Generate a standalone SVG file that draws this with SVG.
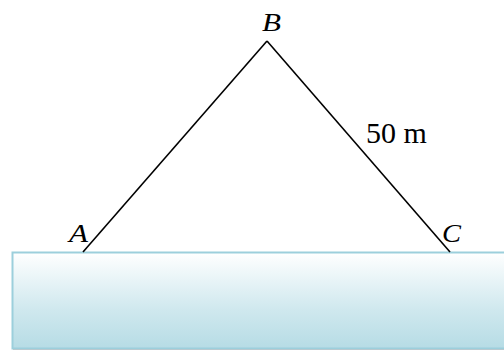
<svg xmlns="http://www.w3.org/2000/svg" width="504" height="351" viewBox="0 0 504 351">
<style>
.lbl{font-family:"Liberation Serif",serif;fill:#000}
.it{font-style:italic;font-size:25px}
.num{font-size:30px}
.edge{stroke:#000;stroke-width:1.6;fill:none}
</style>
<defs>
<linearGradient id="water" x1="0" y1="0" x2="0" y2="1">
<stop offset="0" stop-color="#ffffff"/>
<stop offset="0.6" stop-color="#cfe8ee"/>
<stop offset="1" stop-color="#b6dce5"/>
</linearGradient>
</defs>
<rect id="shore" x="12.5" y="252.5" width="500" height="96" fill="url(#water)" stroke="#9ccfdc" stroke-width="2"/>
<line x1="13" y1="349.5" x2="504" y2="349.5" stroke="#b9c9cf" stroke-width="1"/>
<g id="connectors">
<line class="edge" x1="83" y1="252" x2="267" y2="41"/>
<line class="edge" x1="267" y1="41" x2="450" y2="252"/>
</g>
<g id="B"><text class="lbl it" x="262" y="31" textLength="19" lengthAdjust="spacingAndGlyphs">B</text></g>
<g id="A"><text class="lbl it" x="69" y="242" textLength="19" lengthAdjust="spacingAndGlyphs">A</text></g>
<g id="C"><text class="lbl it" x="442" y="242" textLength="19" lengthAdjust="spacingAndGlyphs">C</text></g>
<g id="len"><text class="lbl num" x="366" y="143">50 m</text></g>
</svg>
